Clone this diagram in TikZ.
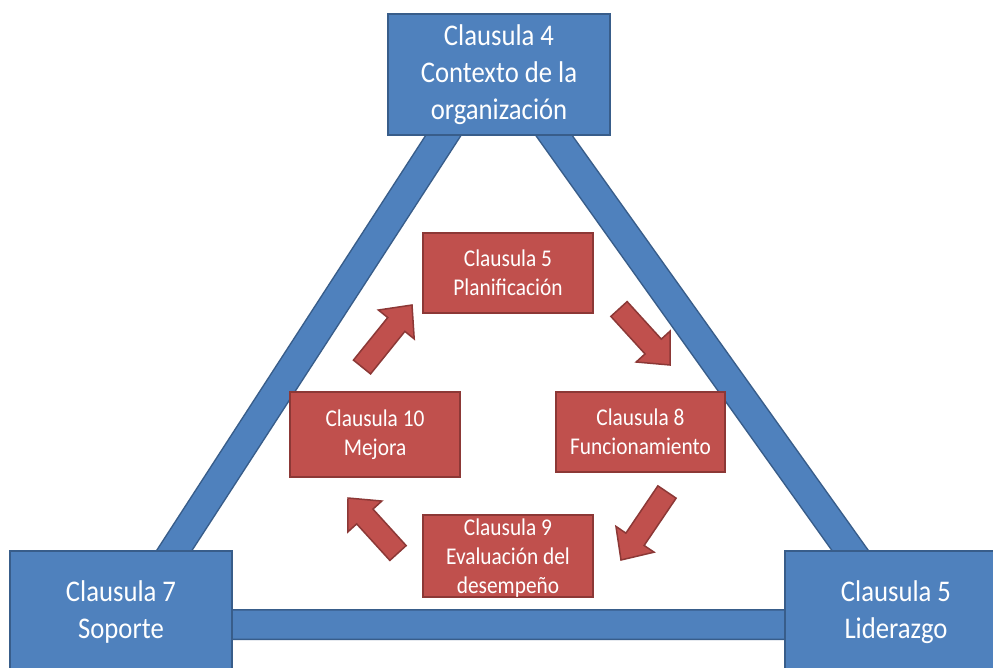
\documentclass[tikz,border=0pt]{standalone}
\usepackage{fontspec}
\setmainfont{Carlito}[FakeStretch=0.89]
\usetikzlibrary{calc}

\definecolor{bluefill}{HTML}{4F81BD}
\definecolor{blueline}{HTML}{385D8A}
\definecolor{redfill}{HTML}{C0504D}
\definecolor{redline}{HTML}{8C3836}

\tikzset{
  clausebox/.style={draw=blueline, fill=bluefill, line width=1.5pt, text=white,
    align=center, inner sep=0pt, font=\fontsize{30}{37}\selectfont},
  innerbox/.style={draw=redline, fill=redfill, line width=1.5pt, text=white,
    align=center, inner sep=0pt, font=\fontsize{24}{29}\selectfont},
  innertext/.style={text=white, align=center, inner sep=0pt,
    font=\fontsize{24}{29}\selectfont},
  fatarrow/.style={draw=redline, fill=redfill, line width=1.5pt, line join=miter},
  barline/.style={line width=31pt, draw=blueline, line join=round},
  barfill/.style={line width=28pt, draw=bluefill, line join=round}
}

% block arrow from tail #1 to tip #2
\newcommand\blockarrow[2]{%
  \coordinate (#1-head) at ($(#2)!25pt!(#1)$);
  \path[fatarrow]
    ($(#1)!11pt!90:(#2)$) -- ($(#1-head)!11pt!90:(#2)$)
    -- ($(#1-head)!23pt!90:(#2)$) -- (#2)
    -- ($(#1-head)!23pt!-90:(#2)$) -- ($(#1-head)!11pt!-90:(#2)$)
    -- ($(#1)!11pt!-90:(#2)$) -- cycle;
}

\begin{document}
\begin{tikzpicture}[x=1pt, y=-1pt]
  \clip (0,0) rectangle (993,667);
  \fill[white] (0,0) rectangle (993,667);

  % outer triangle of bars
  \coordinate (vtop) at (496,54.2);
  \coordinate (vleft) at (126.3,624.5);
  \coordinate (vright) at (903,624.5);
  \draw[barline] (vtop) -- (vleft) -- (vright) -- cycle;
  \draw[barfill] (vtop) -- (vleft) -- (vright) -- cycle;

  % outer clauses
  \node[clausebox, minimum width=222pt, minimum height=121pt] (ctx) at (499,74.5)
    {Clausula 4\\Contexto de la\\organización};
  \node[clausebox, minimum width=222pt, minimum height=122pt] (sop) at (121,612)
    {Clausula 7\\Soporte};
  \node[clausebox, minimum width=222pt, minimum height=122pt] (lid) at (896,612)
    {Clausula 5\\Liderazgo};

  % inner cycle
  \node[innerbox, minimum width=170pt, minimum height=80pt] (plan) at (508,273)
    {Clausula 5\\Planificación};
  \node[innerbox, minimum width=170pt, minimum height=85pt] (mej) at (375,434.5)
    {Clausula 10\\Mejora};
  \node[innerbox, minimum width=169pt, minimum height=80pt] (func) at (640.5,432)
    {Clausula 8\\Funcionamiento};
  \node[innerbox, minimum width=170pt, minimum height=82pt] (eval) at (508,556) {};
  \node[innertext] (evaltxt) at ([yshift=-2pt]eval.center)
    {Clausula 9\\Evaluación del\\desempeño};

  % arrows between the inner clauses
  \coordinate (a1t) at (362,367);   \coordinate (a1h) at (412,305);
  \coordinate (a2t) at (619,309);   \coordinate (a2h) at (670,365);
  \coordinate (a3t) at (667,492);   \coordinate (a3h) at (621,560);
  \coordinate (a4t) at (398,553);   \coordinate (a4h) at (348,498);
  \blockarrow{a1t}{a1h}
  \blockarrow{a2t}{a2h}
  \blockarrow{a3t}{a3h}
  \blockarrow{a4t}{a4h}
\end{tikzpicture}
\end{document}
